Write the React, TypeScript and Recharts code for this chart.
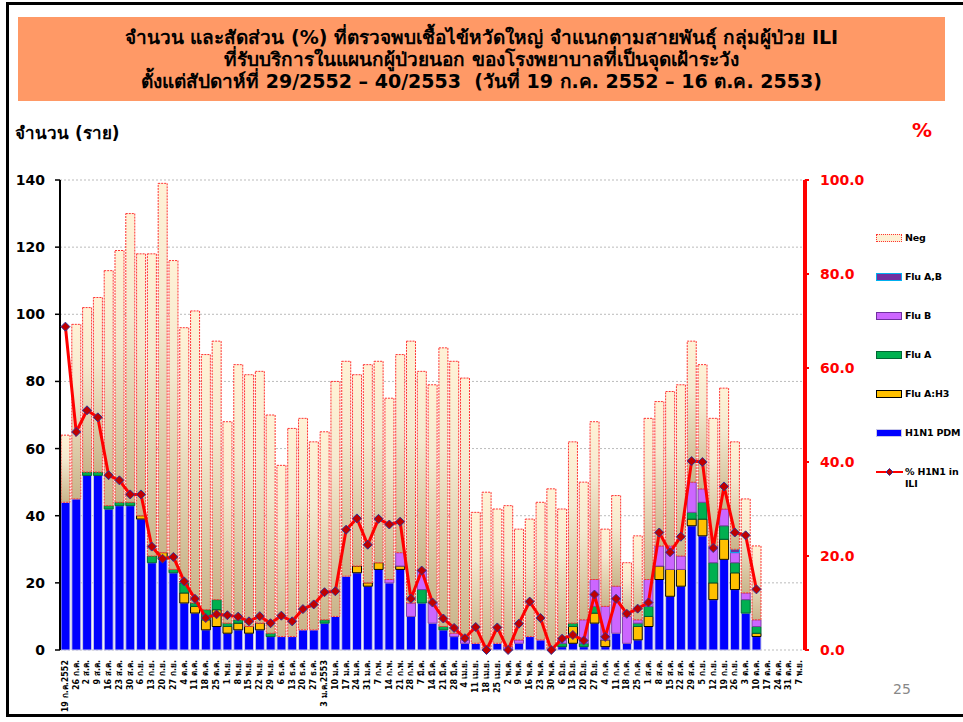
import React from "react";
import {
  ComposedChart,
  Bar,
  Line,
  XAxis,
  YAxis,
  CartesianGrid,
} from "recharts";

const weeks = [
  "19 ก.ค.2552", "26 ก.ค.", "2 ส.ค.", "9 ส.ค.", "16 ส.ค.", "23 ส.ค.", "30 ส.ค.", "6 ก.ย.", "13 ก.ย.", "20 ก.ย.",
  "27 ก.ย.", "4 ต.ค.", "11 ต.ค.", "18 ต.ค.", "25 ต.ค.", "1 พ.ย.", "8 พ.ย.", "15 พ.ย.", "22 พ.ย.", "29 พ.ย.",
  "6 ธ.ค.", "13 ธ.ค.", "20 ธ.ค.", "27 ธ.ค.", "3 ม.ค.2553", "10 ม.ค.", "17 ม.ค.", "24 ม.ค.", "31 ม.ค.", "7 ก.พ.",
  "14 ก.พ.", "21 ก.พ.", "28 ก.พ.", "7 มี.ค.", "14 มี.ค.", "21 มี.ค.", "28 มี.ค.", "4 เม.ย.", "11 เม.ย.", "18 เม.ย.",
  "25 เม.ย.", "2 พ.ค.", "9 พ.ค.", "16 พ.ค.", "23 พ.ค.", "30 พ.ค.", "6 มิ.ย.", "13 มิ.ย.", "20 มิ.ย.", "27 มิ.ย.",
  "4 ก.ค.", "11 ก.ค.", "18 ก.ค.", "25 ก.ค.", "1 ส.ค.", "8 ส.ค.", "15 ส.ค.", "22 ส.ค.", "29 ส.ค.", "5 ก.ย.",
  "12 ก.ย.", "19 ก.ย.", "26 ก.ย.", "3 ต.ค.", "10 ต.ค.", "17 ต.ค.", "24 ต.ค.", "31 ต.ค.", "7 พ.ย.",
];

// counts per week (only the first 65 weeks have data)
const h1n1Pdm = [
  44, 45, 52, 52, 42, 43, 43, 39, 26, 27,
  23, 14, 11, 6, 7, 5, 6, 5, 6, 4,
  4, 4, 6, 6, 8, 10, 22, 23, 19, 24,
  20, 24, 10, 14, 8, 6, 4, 2, 2, 0,
  2, 0, 2, 4, 3, 0, 1, 2, 1, 8,
  1, 5, 2, 3, 7, 21, 16, 19, 37, 34,
  15, 27, 18, 11, 4,
];
const fluAH3 = [
  0, 0, 0, 0, 0, 0, 0, 1, 0, 2,
  0, 3, 2, 3, 5, 2, 2, 2, 2, 0,
  0, 0, 0, 0, 0, 0, 0, 2, 1, 2,
  0, 1, 0, 0, 0, 0, 0, 0, 0, 0,
  0, 0, 0, 0, 0, 0, 0, 5, 0, 3,
  2, 0, 0, 4, 3, 4, 8, 5, 2, 5,
  5, 6, 5, 0, 1,
];
const fluA = [
  0, 0, 1, 1, 1, 1, 1, 0, 2, 0,
  1, 3, 1, 3, 3, 1, 1, 0, 0, 1,
  0, 0, 0, 0, 1, 0, 0, 0, 0, 0,
  0, 0, 0, 4, 0, 1, 0, 0, 0, 0,
  0, 0, 0, 0, 0, 0, 1, 1, 1, 2,
  0, 0, 0, 1, 3, 0, 0, 0, 2, 5,
  6, 4, 3, 4, 2,
];
const fluB = [
  0, 0, 0, 0, 0, 0, 0, 0, 0, 0,
  0, 0, 0, 0, 0, 0, 0, 0, 0, 0,
  0, 0, 0, 0, 0, 0, 0, 0, 0, 0,
  1, 4, 4, 6, 6, 0, 1, 1, 0, 0,
  0, 1, 1, 0, 0, 0, 1, 0, 7, 8,
  10, 14, 8, 1, 8, 6, 7, 4, 9, 4,
  5, 5, 3, 2, 2,
];
const fluAB = [
  0, 0, 0, 0, 0, 0, 0, 0, 0, 0,
  0, 0, 0, 0, 0, 0, 0, 0, 0, 0,
  0, 0, 0, 0, 0, 0, 0, 0, 0, 0,
  0, 0, 0, 0, 0, 0, 0, 0, 0, 0,
  0, 0, 0, 0, 0, 0, 0, 0, 0, 0,
  0, 0, 0, 0, 0, 0, 0, 0, 0, 0,
  0, 0, 1, 0, 0,
];
const neg = [
  20, 52, 49, 52, 70, 75, 86, 78, 90, 110,
  92, 76, 87, 76, 77, 60, 76, 75, 75, 65,
  51, 62, 63, 56, 56, 70, 64, 57, 65, 60,
  54, 59, 78, 59, 65, 83, 81, 78, 39, 47,
  40, 42, 33, 35, 41, 48, 39, 54, 41, 47,
  23, 27, 16, 25, 48, 43, 46, 51, 42, 37,
  38, 36, 32, 28, 22,
];
// % H1N1 in ILI
const pctH1n1 = [
  68.8, 46.4, 51.0, 49.5, 37.2, 36.1, 33.1, 33.1, 22.0, 19.4,
  19.8, 14.6, 10.9, 6.8, 7.6, 7.4, 7.1, 6.1, 7.2, 5.7,
  7.3, 6.1, 8.7, 9.7, 12.3, 12.5, 25.6, 28.0, 22.4, 27.9,
  26.7, 27.3, 10.9, 16.9, 10.1, 6.7, 4.7, 2.5, 4.9, 0,
  4.8, 0, 5.6, 10.3, 6.8, 0, 2.4, 3.2, 2.0, 11.8,
  2.8, 10.9, 7.7, 8.8, 10.1, 25.0, 20.8, 24.1, 40.2, 40.0,
  21.7, 34.8, 25.0, 24.4, 12.9,
];

const leftTicks = [0, 20, 40, 60, 80, 100, 120, 140];
const rightTicks = [0, 20, 40, 60, 80, 100];
const boundaryTicks = [7, 14, 21, 28, 35, 42, 49, 56, 63];

const rows = weeks.map((w, i) => ({
  week: w,
  h1n1: h1n1Pdm[i],
  h3: fluAH3[i],
  fluA: fluA[i],
  fluB: fluB[i],
  fluAB: fluAB[i],
  neg: neg[i],
  pct: pctH1n1[i],
}));

const FONT = "Tahoma, 'DejaVu Sans', sans-serif";

function WeekTick({ x, y, payload }: any) {
  return (
    <text
      transform={`translate(${x},${y}) rotate(-90)`}
      textAnchor="end"
      dominantBaseline="central"
      fontSize={8}
      fontWeight="bold"
      fontFamily={FONT}
      fill="#000"
    >
      {payload.value}
    </text>
  );
}

function Diamond({ cx, cy, value }: any) {
  if (value == null || cx == null) return null;
  const r = 4.5;
  return (
    <path
      d={`M${cx},${cy - r}L${cx + r},${cy}L${cx},${cy + r}L${cx - r},${cy}Z`}
      fill="#C00000"
      stroke="#333399"
      strokeWidth={1}
    />
  );
}

const legendItems = [
  { name: "Neg", fill: "#FDF0D5", stroke: "#FF3333", dashed: true },
  { name: "Flu A,B", fill: "#7030A0", stroke: "#00B0F0" },
  { name: "Flu B", fill: "#CC66FF", stroke: "#7030A0" },
  { name: "Flu A", fill: "#00B050", stroke: "#006633" },
  { name: "Flu A:H3", fill: "#FFC000", stroke: "#000000" },
  { name: "H1N1 PDM", fill: "#0000FF", stroke: "#C8C8E8" },
];

export default function App() {
  return (
    <div style={{ position: "absolute", left: 0, top: 0, width: 963, height: 722, background: "#fff", overflow: "hidden", fontFamily: FONT }}>
      <div style={{ position: "absolute", left: 6, top: 2, width: 980, height: 715, border: "3px solid #000", boxSizing: "border-box" }} />
      <div
        style={{
          position: "absolute", left: 18, top: 17, width: 927, height: 84, background: "#FF9966",
          display: "flex", flexDirection: "column", justifyContent: "center", alignItems: "center",
          fontWeight: "bold", fontSize: 19, lineHeight: "22px", color: "#000", whiteSpace: "nowrap",
        }}
      >
        <div>จำนวน และสัดส่วน (%) ที่ตรวจพบเชื้อไข้หวัดใหญ่ จำแนกตามสายพันธุ์ กลุ่มผู้ป่วย ILI</div>
        <div>ที่รับบริการในแผนกผู้ป่วยนอก ของโรงพยาบาลที่เป็นจุดเฝ้าระวัง</div>
        <div>ตั้งแต่สัปดาห์ที่ 29/2552 – 40/2553&nbsp;&nbsp;(วันที่ 19 ก.ค. 2552 – 16 ต.ค. 2553)</div>
      </div>
      <div style={{ position: "absolute", left: 15, top: 119, fontSize: 17, fontWeight: "bold" }}>จำนวน (ราย)</div>
      <div style={{ position: "absolute", left: 912, top: 118, fontSize: 20, fontWeight: "bold", color: "#FF0000" }}>%</div>
      <div style={{ position: "absolute", left: 893, top: 681, fontSize: 14, color: "#888" }}>25</div>

      <div style={{ position: "absolute", left: 0, top: 0 }}>
        <ComposedChart
          width={963}
          height={722}
          data={rows}
          margin={{ top: 180, right: 58, bottom: 12, left: 10 }}
          barCategoryGap={1}
        >
          <defs>
            <linearGradient id="negFill" x1="0" y1="0" x2="0" y2="1">
              <stop offset="0%" stopColor="#FFF2D6" />
              <stop offset="35%" stopColor="#F5E9CF" />
              <stop offset="100%" stopColor="#C9B48A" />
            </linearGradient>
          </defs>
          <CartesianGrid
            xAxisId="cat"
            yAxisId="left"
            vertical={false}
            stroke="#BBBBBB"
            strokeDasharray="2 2"
          />
          <XAxis
            xAxisId="ticks"
            type="number"
            domain={[0, weeks.length]}
            ticks={boundaryTicks}
            allowDataOverflow
            height={0}
            tick={false}
            tickSize={5}
            axisLine={{ stroke: "#999", strokeWidth: 1.5 }}
            tickLine={{ stroke: "#999", strokeWidth: 1.5 }}
          />
          <XAxis
            xAxisId="cat"
            dataKey="week"
            interval={0}
            height={60}
            axisLine={false}
            tickLine={false}
            tickMargin={4}
            tick={<WeekTick />}
          />
          <YAxis
            yAxisId="left"
            width={50}
            domain={[0, 140]}
            ticks={leftTicks}
            interval={0}
            tickSize={5}
            tickMargin={10}
            axisLine={{ stroke: "#000", strokeWidth: 2 }}
            tickLine={{ stroke: "#000", strokeWidth: 1.5 }}
            tick={{ fill: "#000", fontSize: 14, fontWeight: "bold", fontFamily: FONT }}
          />
          <YAxis
            yAxisId="right"
            orientation="right"
            width={100}
            domain={[0, 100]}
            ticks={rightTicks}
            interval={0}
            tickSize={4}
            tickMargin={11}
            tickFormatter={(v: number) => v.toFixed(1)}
            axisLine={{ stroke: "#FF0000", strokeWidth: 4 }}
            tickLine={{ stroke: "#FF0000", strokeWidth: 2 }}
            tick={{ fill: "#FF0000", fontSize: 14, fontWeight: "bold", fontFamily: FONT }}
          />
          <Bar xAxisId="cat" yAxisId="left" dataKey="h1n1" stackId="s" fill="#0000FF" stroke="#C8C8E8" strokeWidth={1} isAnimationActive={false} />
          <Bar xAxisId="cat" yAxisId="left" dataKey="h3" stackId="s" fill="#FFC000" stroke="#000" strokeWidth={1} isAnimationActive={false} />
          <Bar xAxisId="cat" yAxisId="left" dataKey="fluA" stackId="s" fill="#00B050" stroke="#006633" strokeWidth={1} isAnimationActive={false} />
          <Bar xAxisId="cat" yAxisId="left" dataKey="fluB" stackId="s" fill="#CC66FF" stroke="#8040A8" strokeWidth={1} isAnimationActive={false} />
          <Bar xAxisId="cat" yAxisId="left" dataKey="fluAB" stackId="s" fill="#7030A0" stroke="#00B0F0" strokeWidth={1} isAnimationActive={false} />
          <Bar xAxisId="cat" yAxisId="left" dataKey="neg" stackId="s" fill="url(#negFill)" stroke="#FF3333" strokeWidth={1} strokeDasharray="2 1" isAnimationActive={false} />
          <Line
            xAxisId="cat"
            yAxisId="right"
            dataKey="pct"
            stroke="#FF0000"
            strokeWidth={3}
            dot={<Diamond />}
            activeDot={false}
            isAnimationActive={false}
          />
        </ComposedChart>
      </div>

      {legendItems.map((it, i) => (
        <div key={it.name} style={{ position: "absolute", left: 876, top: 232 + i * 39, display: "flex", alignItems: "center", whiteSpace: "nowrap" }}>
          <div
            style={{
              width: 24, height: 6, background: it.fill, flexShrink: 0,
              border: `1.5px ${it.dashed ? "dotted" : "solid"} ${it.stroke}`, marginRight: 3,
            }}
          />
          <span style={{ fontSize: 9.5, fontWeight: "bold", letterSpacing: -0.2 }}>{it.name}</span>
        </div>
      ))}
      <div style={{ position: "absolute", left: 876, top: 466, display: "flex", alignItems: "flex-start", whiteSpace: "nowrap" }}>
        <svg width={27} height={12} style={{ marginRight: 2, flexShrink: 0 }}>
          <line x1={0} y1={6} x2={27} y2={6} stroke="#FF0000" strokeWidth={2} />
          <path d="M13.5,2.5L17,6L13.5,9.5L10,6Z" fill="#C00000" stroke="#333399" strokeWidth={1} />
        </svg>
        <span style={{ fontSize: 9.5, fontWeight: "bold", lineHeight: "12px", letterSpacing: -0.2 }}>
          % H1N1 in
          <br />
          ILI
        </span>
      </div>
    </div>
  );
}
